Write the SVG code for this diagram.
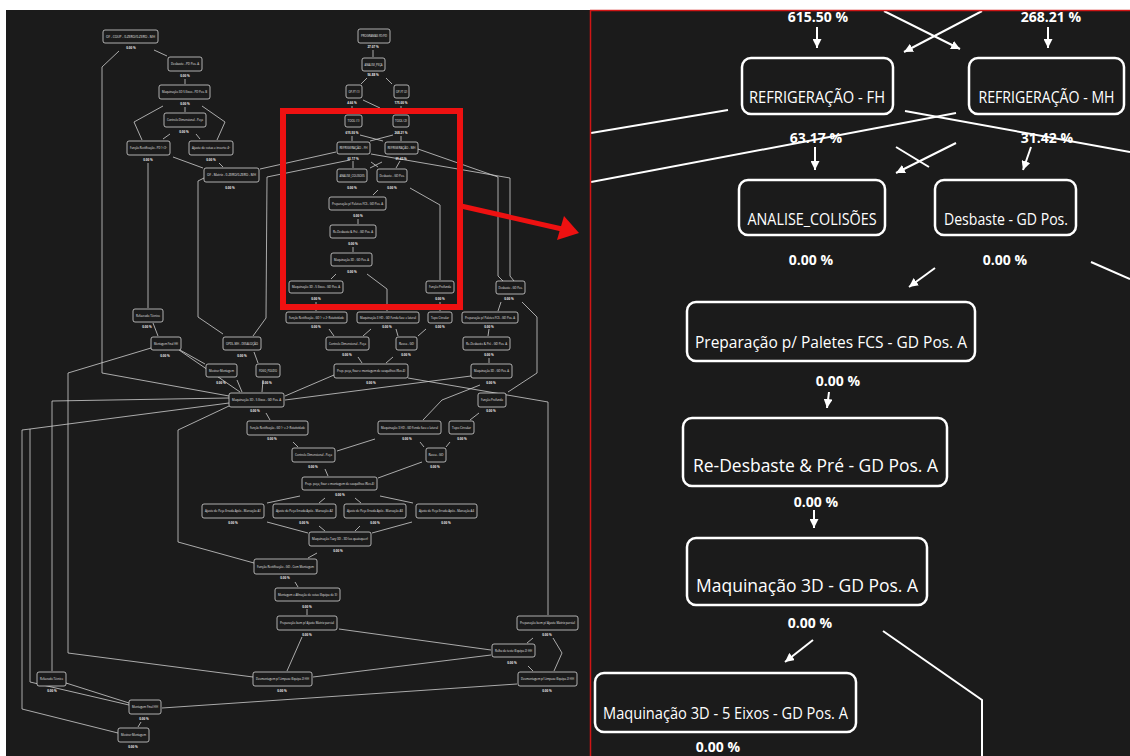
<svg xmlns="http://www.w3.org/2000/svg" width="1130" height="756" viewBox="0 0 1130 756">
<style>
.bg{fill:#1b1b1b}
.rn rect{fill:#1b1b1b;stroke:#fff;stroke-width:2.5}
.rt{font-family:"Open Sans","Liberation Sans",sans-serif;fill:#fff;text-anchor:middle}
.rl{font-size:17px}
.rb{font-size:19px}
.rp{font-family:"Open Sans","Liberation Sans",sans-serif;fill:#fff;text-anchor:middle;font-weight:bold;font-size:14px}
.rc line,.rc polyline{stroke:#fff;stroke-width:2;fill:none}
.mn rect{fill:#1b1b1b;stroke:#d4d4d4;stroke-width:0.8}
.mt{font-family:"Open Sans","Liberation Sans",sans-serif;font-size:3px;fill:#e6e6e6;text-anchor:middle}
.mp{font-family:"Open Sans","Liberation Sans",sans-serif;font-size:3px;font-weight:bold;fill:#e6e6e6;text-anchor:middle}
.mc polyline{stroke:#cfcfcf;stroke-width:0.8;fill:none}
</style>
<defs>
<marker id="ah" markerUnits="userSpaceOnUse" markerWidth="10" markerHeight="9" refX="9" refY="4.5" orient="auto">
<path d="M0,0 L9,4.5 L0,9 z" fill="#fff"/>
</marker>
<clipPath id="rclip"><rect x="591" y="11" width="539" height="745"/></clipPath>
</defs>
<rect x="0" y="0" width="1130" height="756" fill="#fff"/>
<rect class="bg" x="6" y="10" width="584" height="746"/>
<rect class="bg" x="590" y="10" width="540" height="746"/>

<!-- LEFT MINI DIAGRAM -->
<g id="mini-connectors" class="mc">
<polyline points="154,50 167,56"/>
<polyline points="119,51 102,67 102,373 229,396"/>
<polyline points="185,79 185,84"/>
<polyline points="185,107 185,112"/>
<polyline points="163,106 134,122 142,140"/>
<polyline points="202,106 225,122 217,140"/>
<polyline points="170,134 163,139"/>
<polyline points="196,134 200,139"/>
<polyline points="173,157 203,168"/>
<polyline points="219,163 223,167"/>
<polyline points="148,163 148,308"/>
<polyline points="204,178 198,181 198,317 223,334"/>
<polyline points="336,152 260,169"/>
<polyline points="350,160 267,177 266,318 253,336"/>
<polyline points="373,50 373,57"/>
<polyline points="367,78 361,84"/>
<polyline points="386,78 392,84"/>
<polyline points="352,106 352,114"/>
<polyline points="401,106 401,114"/>
<polyline points="363,100 380,108"/>
<polyline points="360,135 383,141"/>
<polyline points="393,135 370,141"/>
<polyline points="352,136 352,141"/>
<polyline points="401,136 401,141"/>
<polyline points="353,161 353,168"/>
<polyline points="400,161 396,168"/>
<polyline points="371,162 378,167"/>
<polyline points="382,162 370,168"/>
<polyline points="371,154 510,178 510,276 514,281"/>
<polyline points="418,149 498,177 498,276 503,281"/>
<polyline points="378,190 373,195"/>
<polyline points="410,188 440,205 440,280"/>
<polyline points="358,219 358,224"/>
<polyline points="353,247 353,252"/>
<polyline points="336,274 331,279"/>
<polyline points="367,274 387,289 387,311"/>
<polyline points="316,302 316,311"/>
<polyline points="440,302 440,311"/>
<polyline points="501,302 498,311"/>
<polyline points="522,302 537,317 537,373 508,392"/>
<polyline points="329,329 334,336"/>
<polyline points="371,329 363,336"/>
<polyline points="396,329 398,336"/>
<polyline points="426,329 418,336"/>
<polyline points="489,329 488,336"/>
<polyline points="358,357 362,363"/>
<polyline points="393,357 386,363"/>
<polyline points="489,358 489,363"/>
<polyline points="334,375 285,396"/>
<polyline points="471,376 285,400"/>
<polyline points="408,378 548,402 548,615"/>
<polyline points="480,385 442,400 423,420"/>
<polyline points="479,413 470,420"/>
<polyline points="266,413 270,420"/>
<polyline points="151,348 68,373 68,653 253,677"/>
<polyline points="229,403 30,429 30,682 129,705"/>
<polyline points="30,429 22,430 22,709 118,733"/>
<polyline points="229,398 52,401 52,671"/>
<polyline points="229,406 178,430 178,542 254,563"/>
<polyline points="153,323 158,336"/>
<polyline points="180,350 205,364"/>
<polyline points="179,350 240,392"/>
<polyline points="254,352 258,363"/>
<polyline points="237,380 242,392"/>
<polyline points="263,380 262,392"/>
<polyline points="293,442 298,447"/>
<polyline points="375,439 337,451"/>
<polyline points="420,442 424,447"/>
<polyline points="450,442 446,447"/>
<polyline points="422,462 378,478"/>
<polyline points="325,469 328,476"/>
<polyline points="300,496 267,503"/>
<polyline points="325,498 319,503"/>
<polyline points="355,498 361,503"/>
<polyline points="380,496 413,503"/>
<polyline points="267,522 308,533"/>
<polyline points="319,526 325,531"/>
<polyline points="360,526 355,531"/>
<polyline points="412,522 372,533"/>
<polyline points="317,553 308,558"/>
<polyline points="295,582 298,587"/>
<polyline points="307,609 307,615"/>
<polyline points="302,637 287,671"/>
<polyline points="339,629 491,650"/>
<polyline points="533,638 527,643"/>
<polyline points="553,638 562,653 554,671"/>
<polyline points="528,666 533,671"/>
<polyline points="491,655 313,677"/>
<polyline points="517,684 162,708"/>
<polyline points="66,683 129,703"/>
<polyline points="141,722 138,727"/>
</g>

<g id="mini-nodes" class="mn">
<g id="m-a"><rect x="103" y="30" width="55" height="13" rx="2"/><text class="mt" x="130.5" y="37.5" textLength="49" lengthAdjust="spacingAndGlyphs">OF - COUP - 0-ZERO/0-ZERO - MH</text><text class="mp" x="131" y="49">0.00 %</text></g>
<g id="m-b"><rect x="168" y="57" width="34" height="14" rx="2"/><text class="mt" x="185" y="65" textLength="28" lengthAdjust="spacingAndGlyphs">Desbaste - PD Pos. A</text><text class="mp" x="185" y="77">0.00 %</text></g>
<g id="m-c"><rect x="159" y="85" width="51" height="14" rx="2"/><text class="mt" x="184.5" y="93" textLength="45" lengthAdjust="spacingAndGlyphs">Maquinação 3D 5 Eixos - PD Pos. B</text><text class="mp" x="185" y="105">0.00 %</text></g>
<g id="m-d"><rect x="164" y="113" width="42" height="14" rx="2"/><text class="mt" x="185" y="121" textLength="36" lengthAdjust="spacingAndGlyphs">Controlo Dimensional - Peça</text><text class="mp" x="184" y="133">0.00 %</text></g>
<g id="m-e"><rect x="127" y="141" width="43" height="14" rx="2"/><text class="mt" x="148.5" y="149" textLength="37" lengthAdjust="spacingAndGlyphs">Função Rectificação - PD 1ª/2ª</text><text class="mp" x="148" y="161">0.00 %</text></g>
<g id="m-f"><rect x="189" y="141" width="44" height="14" rx="2"/><text class="mt" x="211" y="149" textLength="38" lengthAdjust="spacingAndGlyphs">Ajuste de cotas e incerto 4ª</text><text class="mp" x="211" y="161">0.00 %</text></g>
<g id="m-g"><rect x="204" y="168" width="55" height="14" rx="2"/><text class="mt" x="231.5" y="176" textLength="49" lengthAdjust="spacingAndGlyphs">OF - Matriz - 0-ZERO/0-ZERO - MH</text><text class="mp" x="230" y="189">0.00 %</text></g>
<g id="m-p1"><rect x="358" y="29" width="32" height="14" rx="2"/><text class="mt" x="374" y="37" textLength="26" lengthAdjust="spacingAndGlyphs">PROGRAMAS FD/FD</text><text class="mp" x="373" y="48">27.07 %</text></g>
<g id="m-p2"><rect x="362" y="58" width="23" height="13" rx="2"/><text class="mt" x="373.5" y="65.5" textLength="18" lengthAdjust="spacingAndGlyphs">ANALISE_PEÇA</text><text class="mp" x="373" y="76">56.88 %</text></g>
<g id="m-p3"><rect x="346" y="85" width="16" height="13" rx="2"/><text class="mt" x="354" y="92.5" textLength="11" lengthAdjust="spacingAndGlyphs">OP-FT (1)</text><text class="mp" x="352" y="104">4.66 %</text></g>
<g id="m-p4"><rect x="394" y="85" width="15" height="13" rx="2"/><text class="mt" x="401.5" y="92.5" textLength="11" lengthAdjust="spacingAndGlyphs">OP-FT (2)</text><text class="mp" x="401" y="104">175.00 %</text></g>
<g id="m-q1"><rect x="345" y="115" width="17" height="12" rx="2"/><text class="mt" x="353.5" y="122" textLength="12" lengthAdjust="spacingAndGlyphs">TOOL (1)</text><text class="mp" x="352" y="134">615.50 %</text></g>
<g id="m-q2"><rect x="393" y="115" width="16" height="12" rx="2"/><text class="mt" x="401" y="122" textLength="12" lengthAdjust="spacingAndGlyphs">TOOL (2)</text><text class="mp" x="401" y="134">268.21 %</text></g>
<g id="m-r1"><rect x="337" y="142" width="33" height="12" rx="2"/><text class="mt" x="353.5" y="149" textLength="28" lengthAdjust="spacingAndGlyphs">REFRIGERAÇÃO - FH</text><text class="mp" x="353" y="160">63.17 %</text></g>
<g id="m-r2"><rect x="385" y="142" width="33" height="12" rx="2"/><text class="mt" x="401.5" y="149" textLength="28" lengthAdjust="spacingAndGlyphs">REFRIGERAÇÃO - MH</text><text class="mp" x="401" y="160">31.42 %</text></g>
<g id="m-s1"><rect x="337" y="169" width="30" height="13" rx="2"/><text class="mt" x="352" y="176.5" textLength="25" lengthAdjust="spacingAndGlyphs">ANALISE_COLISÕES</text><text class="mp" x="352" y="189">0.00 %</text></g>
<g id="m-s2"><rect x="377" y="169" width="30" height="13" rx="2"/><text class="mt" x="392" y="176.5" textLength="25" lengthAdjust="spacingAndGlyphs">Desbaste - GD Pos.</text><text class="mp" x="392" y="189">0.00 %</text></g>
<g id="m-t1"><rect x="329" y="197" width="57" height="13" rx="2"/><text class="mt" x="357.5" y="204.5" textLength="51" lengthAdjust="spacingAndGlyphs">Preparação p/ Paletes FCS - GD Pos. A</text><text class="mp" x="358" y="217">0.00 %</text></g>
<g id="m-t2"><rect x="330" y="225" width="46" height="13" rx="2"/><text class="mt" x="353" y="232.5" textLength="40" lengthAdjust="spacingAndGlyphs">Re-Desbaste &amp; Pré - GD Pos. A</text><text class="mp" x="353" y="245">0.00 %</text></g>
<g id="m-t3"><rect x="331" y="253" width="41" height="13" rx="2"/><text class="mt" x="351.5" y="260.5" textLength="35" lengthAdjust="spacingAndGlyphs">Maquinação 3D - GD Pos. A</text><text class="mp" x="352" y="273">0.00 %</text></g>
<g id="m-t4"><rect x="289" y="281" width="54" height="12" rx="2"/><text class="mt" x="316" y="288" textLength="48" lengthAdjust="spacingAndGlyphs">Maquinação 3D - 5 Eixos - GD Pos. A</text><text class="mp" x="316" y="300">0.00 %</text></g>
<g id="m-t5"><rect x="426" y="281" width="28" height="12" rx="2"/><text class="mt" x="440" y="288" textLength="22" lengthAdjust="spacingAndGlyphs">Função Profunda</text><text class="mp" x="440" y="300">0.00 %</text></g>
<g id="m-t6"><rect x="496" y="281" width="29" height="13" rx="2"/><text class="mt" x="510.5" y="288.5" textLength="24" lengthAdjust="spacingAndGlyphs">Desbaste - GD Pos.</text><text class="mp" x="509" y="300">0.00 %</text></g>
<g id="m-u1"><rect x="286" y="312" width="61" height="11" rx="2"/><text class="mt" x="316.5" y="318.5" textLength="55" lengthAdjust="spacingAndGlyphs">Função Rectificação - GD 1ª e 2ª Rotatividade</text><text class="mp" x="316" y="328">0.00 %</text></g>
<g id="m-u2"><rect x="357" y="312" width="62" height="11" rx="2"/><text class="mt" x="388" y="318.5" textLength="56" lengthAdjust="spacingAndGlyphs">Maquinação 3 HD - GD Fenda face e lateral</text><text class="mp" x="387" y="328">0.00 %</text></g>
<g id="m-u3"><rect x="428" y="312" width="24" height="11" rx="2"/><text class="mt" x="440" y="318.5" textLength="18" lengthAdjust="spacingAndGlyphs">Topo Circular</text><text class="mp" x="440" y="328">0.00 %</text></g>
<g id="m-u4"><rect x="462" y="312" width="56" height="11" rx="2"/><text class="mt" x="490" y="318.5" textLength="50" lengthAdjust="spacingAndGlyphs">Preparação p/ Paletes FCS - GD Pos. A</text><text class="mp" x="489" y="328">0.00 %</text></g>
<g id="m-v1"><rect x="326" y="337" width="43" height="13" rx="2"/><text class="mt" x="347.5" y="344.5" textLength="37" lengthAdjust="spacingAndGlyphs">Controlo Dimensional - Peça</text><text class="mp" x="347" y="356">0.00 %</text></g>
<g id="m-v2"><rect x="396" y="337" width="21" height="13" rx="2"/><text class="mt" x="406.5" y="344.5" textLength="15" lengthAdjust="spacingAndGlyphs">Rasca - GD</text><text class="mp" x="406" y="356">0.00 %</text></g>
<g id="m-v3"><rect x="463" y="337" width="47" height="13" rx="2"/><text class="mt" x="486.5" y="344.5" textLength="41" lengthAdjust="spacingAndGlyphs">Re-Desbaste &amp; Pré - GD Pos. A</text><text class="mp" x="489" y="356">0.00 %</text></g>
<g id="m-w1"><rect x="334" y="364" width="74" height="14" rx="2"/><text class="mt" x="371" y="372" textLength="68" lengthAdjust="spacingAndGlyphs">Prep. peça, fixar e montagem de casquilhos (Rev.4)</text><text class="mp" x="371" y="384">0.00 %</text></g>
<g id="m-w2"><rect x="471" y="364" width="41" height="14" rx="2"/><text class="mt" x="491.5" y="372" textLength="35" lengthAdjust="spacingAndGlyphs">Maquinação 3D - GD Pos. A</text><text class="mp" x="491" y="384">0.00 %</text></g>
<g id="m-x1"><rect x="478" y="393" width="28" height="14" rx="2"/><text class="mt" x="492" y="401" textLength="22" lengthAdjust="spacingAndGlyphs">Função Profunda</text><text class="mp" x="491" y="412">0.00 %</text></g>
<g id="m-y1"><rect x="378" y="421" width="63" height="13" rx="2"/><text class="mt" x="409.5" y="428.5" textLength="57" lengthAdjust="spacingAndGlyphs">Maquinação 3 HD - GD Fenda face e lateral</text><text class="mp" x="407" y="440">0.00 %</text></g>
<g id="m-y2"><rect x="449" y="421" width="25" height="13" rx="2"/><text class="mt" x="461.5" y="428.5" textLength="19" lengthAdjust="spacingAndGlyphs">Topo Circular</text><text class="mp" x="462" y="440">0.00 %</text></g>
<g id="m-y3"><rect x="247" y="421" width="61" height="14" rx="2"/><text class="mt" x="277.5" y="429" textLength="55" lengthAdjust="spacingAndGlyphs">Função Rectificação - GD 1ª e 2ª Rotatividade</text><text class="mp" x="272" y="440">0.00 %</text></g>
<g id="m-z1"><rect x="292" y="448" width="43" height="14" rx="2"/><text class="mt" x="313.5" y="456" textLength="37" lengthAdjust="spacingAndGlyphs">Controlo Dimensional - Peça</text><text class="mp" x="313" y="468">0.00 %</text></g>
<g id="m-z2"><rect x="426" y="448" width="20" height="14" rx="2"/><text class="mt" x="436" y="456" textLength="15" lengthAdjust="spacingAndGlyphs">Rasca - GD</text><text class="mp" x="435" y="468">0.00 %</text></g>
<g id="m-w3"><rect x="302" y="477" width="75" height="13" rx="2"/><text class="mt" x="339.5" y="484.5" textLength="69" lengthAdjust="spacingAndGlyphs">Prep. peça, fixar e montagem de casquilhos (Rev.4)</text><text class="mp" x="340" y="496">0.00 %</text></g>
<g id="m-aj1"><rect x="202" y="504" width="62" height="14" rx="2"/><text class="mt" x="233" y="512" textLength="56" lengthAdjust="spacingAndGlyphs">Ajuste de Peça Errada Após - Marcação A1</text><text class="mp" x="233" y="524">0.00 %</text></g>
<g id="m-aj2"><rect x="273" y="504" width="63" height="14" rx="2"/><text class="mt" x="304.5" y="512" textLength="57" lengthAdjust="spacingAndGlyphs">Ajuste de Peça Errada Após - Marcação A2</text><text class="mp" x="304" y="524">0.00 %</text></g>
<g id="m-aj3"><rect x="344" y="504" width="62" height="14" rx="2"/><text class="mt" x="375" y="512" textLength="56" lengthAdjust="spacingAndGlyphs">Ajuste de Peça Errada Após - Marcação A3</text><text class="mp" x="375" y="524">0.00 %</text></g>
<g id="m-aj4"><rect x="416" y="504" width="61" height="14" rx="2"/><text class="mt" x="446.5" y="512" textLength="55" lengthAdjust="spacingAndGlyphs">Ajuste de Peça Errada Após - Marcação A4</text><text class="mp" x="446" y="524">0.00 %</text></g>
<g id="m-mt"><rect x="309" y="532" width="62" height="14" rx="2"/><text class="mt" x="340" y="540" textLength="56" lengthAdjust="spacingAndGlyphs">Maquinação Tazy 3D - 3D (os quaisquer)</text><text class="mp" x="338" y="552">0.00 %</text></g>
<g id="m-fr"><rect x="254" y="559" width="63" height="15" rx="2"/><text class="mt" x="285.5" y="567.5" textLength="57" lengthAdjust="spacingAndGlyphs">Função Rectificação - GD - Com Montagem</text><text class="mp" x="285" y="579">0.00 %</text></g>
<g id="m-ma"><rect x="275" y="588" width="65" height="13" rx="2"/><text class="mt" x="307.5" y="595.5" textLength="59" lengthAdjust="spacingAndGlyphs">Montagem e Afinação de cotas (Equipa de 3)</text><text class="mp" x="307" y="608">0.00 %</text></g>
<g id="m-pb1"><rect x="277" y="616" width="60" height="14" rx="2"/><text class="mt" x="307" y="624" textLength="54" lengthAdjust="spacingAndGlyphs">Preparação bem p/ Ajuste Matriz parcial</text><text class="mp" x="307" y="636">0.00 %</text></g>
<g id="m-pb2"><rect x="517" y="616" width="61" height="14" rx="2"/><text class="mt" x="547.5" y="624" textLength="55" lengthAdjust="spacingAndGlyphs">Preparação bem p/ Ajuste Matriz parcial</text><text class="mp" x="547" y="636">0.00 %</text></g>
<g id="m-rt"><rect x="492" y="644" width="43" height="13" rx="2"/><text class="mt" x="513.5" y="651.5" textLength="37" lengthAdjust="spacingAndGlyphs">Rolha de teste (Equipa 2) HH</text><text class="mp" x="512" y="664">0.00 %</text></g>
<g id="m-dl1"><rect x="253" y="672" width="59" height="14" rx="2"/><text class="mt" x="282.5" y="680" textLength="53" lengthAdjust="spacingAndGlyphs">Desmontagem p/ Limpeza (Equipa 2) HH</text><text class="mp" x="282" y="692">0.00 %</text></g>
<g id="m-dl2"><rect x="518" y="672" width="59" height="14" rx="2"/><text class="mt" x="547.5" y="680" textLength="53" lengthAdjust="spacingAndGlyphs">Desmontagem p/ Limpeza (Equipa 2) HH</text><text class="mp" x="547" y="692">0.00 %</text></g>
<g id="m-rf2"><rect x="37" y="672" width="29" height="14" rx="2"/><text class="mt" x="51.5" y="680" textLength="23" lengthAdjust="spacingAndGlyphs">Refaerado Técnico</text><text class="mp" x="52" y="692">0.00 %</text></g>
<g id="m-mf2"><rect x="129" y="700" width="32" height="14" rx="2"/><text class="mt" x="145" y="708" textLength="26" lengthAdjust="spacingAndGlyphs">Montagem Final HH</text><text class="mp" x="144" y="720">0.00 %</text></g>
<g id="m-mm2"><rect x="118" y="728" width="31" height="14" rx="2"/><text class="mt" x="133.5" y="736" textLength="25" lengthAdjust="spacingAndGlyphs">Mostrar Montagem</text><text class="mp" x="133" y="748">0.00 %</text></g>
<g id="m-rf1"><rect x="133" y="309" width="30" height="13" rx="2"/><text class="mt" x="148" y="316.5" textLength="24" lengthAdjust="spacingAndGlyphs">Refaerado Técnico</text><text class="mp" x="147" y="328">0.00 %</text></g>
<g id="m-mf1"><rect x="151" y="337" width="30" height="13" rx="2"/><text class="mt" x="166" y="344.5" textLength="24" lengthAdjust="spacingAndGlyphs">Montagem Final HH</text><text class="mp" x="165" y="357">0.00 %</text></g>
<g id="m-mm1"><rect x="206" y="364" width="31" height="13" rx="2"/><text class="mt" x="221.5" y="371.5" textLength="25" lengthAdjust="spacingAndGlyphs">Mostrar Montagem</text><text class="mp" x="221" y="384">0.00 %</text></g>
<g id="m-op"><rect x="223" y="337" width="38" height="13" rx="2"/><text class="mt" x="242" y="344.5" textLength="32" lengthAdjust="spacingAndGlyphs">OPDL-MH - DESALOÇÃO</text><text class="mp" x="242" y="357">0.00 %</text></g>
<g id="m-fp"><rect x="256" y="364" width="24" height="13" rx="2"/><text class="mt" x="268" y="371.5" textLength="18" lengthAdjust="spacingAndGlyphs">FOGO_POLIDO</text><text class="mp" x="267" y="384">0.00 %</text></g>
<g id="m-mq"><rect x="229" y="393" width="55" height="14" rx="2"/><text class="mt" x="256.5" y="401" textLength="49" lengthAdjust="spacingAndGlyphs">Maquinação 3D - 5 Eixos - GD Pos. A</text><text class="mp" x="255" y="412">0.00 %</text></g>
</g>

<!-- highlight overlay -->
<g id="highlight">
<rect x="283" y="111" width="177" height="196" fill="none" stroke="#ee1111" stroke-width="6"/>
<line x1="461" y1="206" x2="562" y2="229" stroke="#ee1111" stroke-width="5"/>
<polygon points="579,233 557,240 564,216" fill="#ee1111"/>
</g>

<!-- RIGHT ZOOMED PANEL -->
<g id="zoom-connectors" class="rc" clip-path="url(#rclip)">
<line x1="817" y1="27" x2="817" y2="48" marker-end="url(#ah)"/>
<line x1="1048" y1="27" x2="1048" y2="48" marker-end="url(#ah)"/>
<line x1="884" y1="11" x2="960" y2="49" marker-end="url(#ah)"/>
<line x1="982" y1="11" x2="904" y2="52" marker-end="url(#ah)"/>
<line x1="591" y1="133" x2="728" y2="110"/>
<line x1="591" y1="182" x2="956" y2="113"/>
<line x1="905" y1="111" x2="1130" y2="152"/>
<line x1="815" y1="147" x2="815" y2="170" marker-end="url(#ah)"/>
<line x1="1031" y1="147" x2="1023" y2="170" marker-end="url(#ah)"/>
<line x1="896" y1="147" x2="929" y2="167"/>
<line x1="956" y1="143" x2="896" y2="173" marker-end="url(#ah)"/>
<line x1="935" y1="268" x2="909" y2="287" marker-end="url(#ah)"/>
<line x1="1091" y1="262" x2="1130" y2="279"/>
<line x1="829" y1="392" x2="827" y2="408" marker-end="url(#ah)"/>
<line x1="814" y1="510" x2="814" y2="528" marker-end="url(#ah)"/>
<line x1="813" y1="640" x2="785" y2="662" marker-end="url(#ah)"/>
<polyline points="883,631 982,700 982,756"/>
</g>

<g id="zoom-nodes" class="rn">
<g id="z-fh"><rect x="742" y="58" width="151" height="56" rx="9"/><text class="rt rl" x="817" y="103" textLength="136" lengthAdjust="spacingAndGlyphs">REFRIGERAÇÃO - FH</text></g>
<g id="z-mh"><rect x="969" y="58" width="155" height="56" rx="9"/><text class="rt rl" x="1046.5" y="103" textLength="136" lengthAdjust="spacingAndGlyphs">REFRIGERAÇÃO - MH</text></g>
<g id="z-an"><rect x="739" y="180" width="146" height="55" rx="9"/><text class="rt rl" x="812" y="225" textLength="129" lengthAdjust="spacingAndGlyphs">ANALISE_COLISÕES</text></g>
<g id="z-de"><rect x="935" y="180" width="141" height="55" rx="9"/><text class="rt rl" x="1006" y="225" textLength="124" lengthAdjust="spacingAndGlyphs">Desbaste - GD Pos.</text></g>
<g id="z-pr"><rect x="687" y="302" width="288" height="59" rx="9"/><text class="rt rl" x="831" y="348" textLength="272" lengthAdjust="spacingAndGlyphs">Preparação p/ Paletes FCS - GD Pos. A</text></g>
<g id="z-rd"><rect x="683" y="418" width="264" height="68" rx="9"/><text class="rt rb" x="815.5" y="472" textLength="245" lengthAdjust="spacingAndGlyphs">Re-Desbaste &amp; Pré - GD Pos. A</text></g>
<g id="z-mq"><rect x="687" y="538" width="240" height="67" rx="9"/><text class="rt rb" x="807" y="592" textLength="222" lengthAdjust="spacingAndGlyphs">Maquinação 3D - GD Pos. A</text></g>
<g id="z-m5"><rect x="595" y="673" width="261" height="59" rx="9"/><text class="rt rl" x="725.5" y="719" textLength="245" lengthAdjust="spacingAndGlyphs">Maquinação 3D - 5 Eixos - GD Pos. A</text></g>
</g>

<g id="zoom-labels">
<text class="rp" x="818" y="22">615.50 %</text>
<text class="rp" x="1051" y="22">268.21 %</text>
<text class="rp" x="816" y="143">63.17 %</text>
<text class="rp" x="1047" y="143">31.42 %</text>
<text class="rp" x="811" y="265">0.00 %</text>
<text class="rp" x="1005" y="265">0.00 %</text>
<text class="rp" x="838" y="386">0.00 %</text>
<text class="rp" x="816" y="507">0.00 %</text>
<text class="rp" x="810" y="628">0.00 %</text>
<text class="rp" x="718" y="752">0.00 %</text>
</g>

<g id="frame">
<line x1="590.5" y1="10" x2="590.5" y2="756" stroke="#d01515" stroke-width="1.5"/>
<line x1="590" y1="10.5" x2="1130" y2="10.5" stroke="#d01515" stroke-width="1.5"/>
</g>
</svg>
